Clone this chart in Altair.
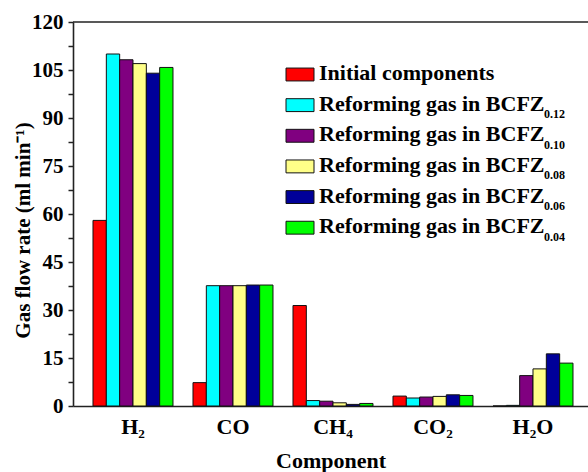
import altair as alt
import pandas as pd

# Gas components on the x axis
components = ["H₂", "CO", "CH₄", "CO₂", "H₂O"]

# Series (feed gas and reformed gas for each membrane composition)
series = [
    "Initial components",
    "Reforming gas in BCFZ0.12",
    "Reforming gas in BCFZ0.10",
    "Reforming gas in BCFZ0.08",
    "Reforming gas in BCFZ0.06",
    "Reforming gas in BCFZ0.04",
]
legend_main = ["Initial components"] + ["Reforming gas in BCFZ"] * 5
legend_sub = ["", "0.12", "0.10", "0.08", "0.06", "0.04"]
colors = ["#FF0000", "#00FFFF", "#800080", "#FFFF88", "#000099", "#00FF00"]

# Gas flow rates (ml/min), one list per series in component order
initial = [58.0, 7.3, 31.4, 3.1, 0.0]
bcfz_012 = [110.0, 37.6, 1.7, 2.5, 0.2]
bcfz_010 = [108.2, 37.6, 1.5, 2.8, 9.5]
bcfz_008 = [107.0, 37.6, 1.0, 3.0, 11.6]
bcfz_006 = [104.0, 37.8, 0.5, 3.5, 16.3]
bcfz_004 = [105.8, 37.8, 0.8, 3.3, 13.4]
values = [initial, bcfz_012, bcfz_010, bcfz_008, bcfz_006, bcfz_004]

rows = []
for s, vals in zip(series, values):
    for c, v in zip(components, vals):
        rows.append({"component": c, "series": s, "value": v})
df = pd.DataFrame(rows)

legend_df = pd.DataFrame({
    "series": series,
    "main": legend_main,
    "sub": legend_sub,
    "row": list(range(len(series))),
})

FONT = "Liberation Serif"
W, H = 515, 384

color = alt.Color("series:N", sort=series,
                  scale=alt.Scale(domain=series, range=colors), legend=None)

y_ticks = [i * 7.5 for i in range(17)]

bars = alt.Chart(df).mark_bar(stroke="#111111", strokeWidth=1).encode(
    x=alt.X("component:N", sort=components,
            scale=alt.Scale(paddingInner=0.2, paddingOuter=0.175, align=0.5714),
            axis=alt.Axis(title="Component", ticks=False, labelAngle=0,
                          labelFontSize=22, labelBaseline="alphabetic",
                          labelPadding=27, titleFontSize=22,
                          titleBaseline="alphabetic", titleY=61)),
    xOffset=alt.XOffset("series:N", sort=series,
                        scale=alt.Scale(paddingInner=0, paddingOuter=0)),
    y=alt.Y("value:Q", scale=alt.Scale(domain=[0, 120], nice=False),
            axis=alt.Axis(title="Gas flow rate (ml min⁻¹)", values=y_ticks,
                          labelExpr="datum.value % 15 == 0 ? datum.value : ''",
                          tickSize=5, labelPadding=5, labelFontSize=21,
                          titleFontSize=21, titleX=-50, titleY=H / 2 + 16,
                          titleAlign="center", titleBaseline="middle")),
    color=color,
)

# Closing line along the top edge of the plot frame
top_line = alt.Chart(pd.DataFrame({"edge": ["top"]})).mark_rule(
    color="#222222", strokeWidth=1.6
).encode(
    y=alt.value(0),
    x=alt.value(0),
    x2=alt.value(W),
)

row_y = alt.Y("row:Q", scale=alt.Scale(domain=[0, 5], range=[52.5, 205.7]), axis=None)

swatches = alt.Chart(legend_df).mark_point(
    shape="M-1,-0.46H1V0.46H-1Z", filled=True, size=784, opacity=1,
    stroke="#111111", strokeWidth=1,
).encode(x=alt.value(227), y=row_y, fill=alt.Fill("series:N", sort=series,
         scale=alt.Scale(domain=series, range=colors), legend=None))

main_text = alt.Chart(legend_df).mark_text(
    align="left", baseline="alphabetic", dy=5.5, font=FONT, fontWeight="bold",
    fontSize=22, color="black",
).encode(x=alt.value(246), y=row_y, text="main:N")

sub_text = alt.Chart(legend_df).mark_text(
    align="left", baseline="alphabetic", dy=13, font=FONT, fontWeight="bold",
    fontSize=12, color="black",
).encode(x=alt.value(471), y=row_y, text="sub:N")

chart = alt.layer(
    alt.layer(bars, top_line),
    swatches, main_text, sub_text,
).resolve_scale(y="independent").properties(
    width=W, height=H,
    padding={"left": 73, "top": 22, "right": 0, "bottom": 66},
    autosize=alt.AutoSizeParams(type="none"),
    background="white",
).configure_view(stroke=None).configure_axis(
    grid=False, domainColor="#222222", domainWidth=1.6,
    tickColor="#222222", tickWidth=1.5,
    labelFont=FONT, labelFontWeight="bold", labelColor="black",
    titleFont=FONT, titleFontWeight="bold", titleColor="black",
)

chart.save("out.html", embed_options={"renderer": "svg", "actions": False})
